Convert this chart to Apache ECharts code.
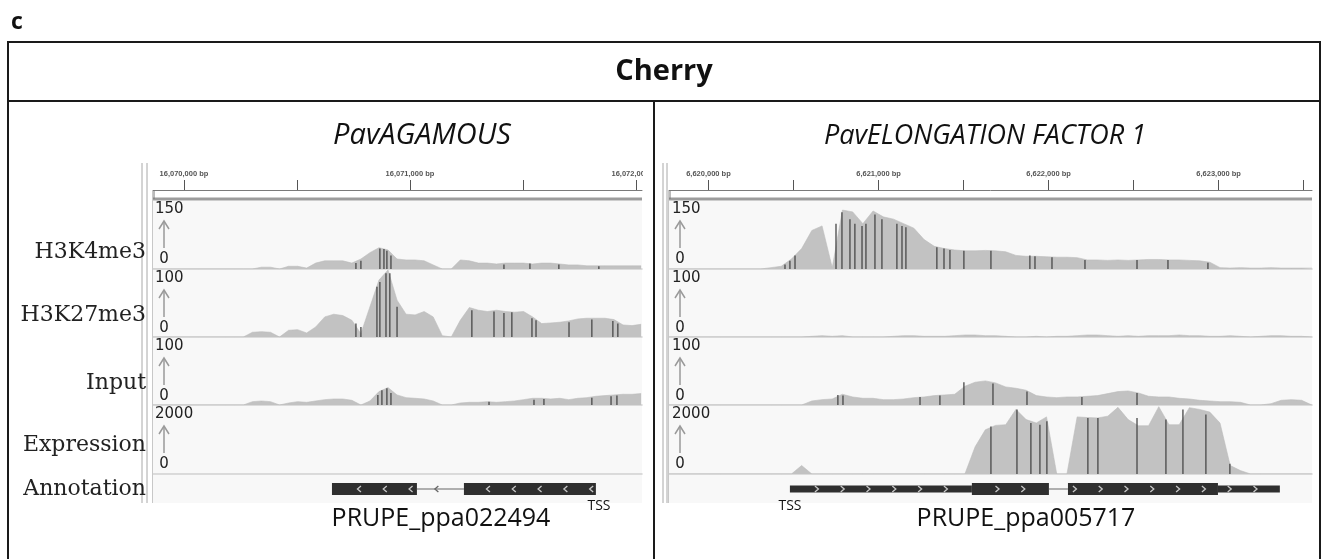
<!DOCTYPE html>
<html>
<head>
<meta charset="utf-8">
<script src="https://cdn.jsdelivr.net/npm/echarts@6/dist/echarts.min.js"></script>
<style>
  html, body { margin: 0; padding: 0; background: #fff; }
  #chart { width: 1322px; height: 559px; }
</style>
</head>
<body>
<div id="chart"></div>
<script>
// track names and scale maxima
var TRACK_NAMES = ['H3K4me3', 'H3K27me3', 'Input', 'Expression'];
var TRACK_MAX = [150, 100, 100, 2000];

// genomic windows (bp)
var L_RANGE = [16069863, 16072027];
var R_RANGE = [6619768, 6623549];
var L_TICKS = [16070000, 16070500, 16071000, 16071500, 16072000];
var L_LABELS = [16070000, 16071000, 16072000];
var R_TICKS = [6620000, 6620500, 6621000, 6621500, 6622000, 6622500, 6623000, 6623500];
var R_LABELS = [6620000, 6621000, 6622000, 6623000];

// coverage sampled every L_STEP / R_STEP bp from the window start
var L_START = 16069863, L_STEP = 40;
var R_START = 6619768, R_STEP = 60;

// PavAGAMOUS
var L_K4 = [0,0,0,0,0,0,0,0,0,0,0,0,4,4,0,6,6,2,13,18,18,18,13,22,36,47,42,22,20,20,18,9,0,0,20,18,13,13,11,13,13,13,11,13,13,11,9,9,7,7,7,7,7,7,7];
var L_K27 = [0,0,0,0,0,0,0,0,0,0,0,7,8,7,0,10,11,6,15,30,34,32,25,5,45,85,100,55,34,33,38,30,2,0,25,44,40,38,40,38,37,38,30,20,21,22,24,27,28,28,28,26,18,17,19];
var L_INPUT = [0,0,0,0,0,0,0,0,0,0,0,5,6,5,0,3,5,4,6,8,9,9,7,0,6,20,26,15,11,10,9,6,0,0,3,4,4,5,4,5,6,8,10,10,9,10,8,10,11,13,14,15,16,16,17];
var L_EXPR = [];

// PavELONGATION FACTOR 1
var R_K4 = [0,0,0,0,0,0,0,0,0,0,3,6,22,45,85,95,3,130,126,100,128,115,110,100,90,65,50,45,42,40,40,41,40,38,30,28,28,27,26,26,25,20,20,19,20,19,20,21,21,20,20,19,18,15,3,2,3,2,2,3,2,2,2,2];
var R_K27 = [0,0,0,0,0,0,0,0,0,0,0,0,0,0,1,2,1,2,0,0,0,0,1,2,2,1,1,1,2,3,3,2,2,1,0,0,1,0,1,1,2,3,3,2,1,2,1,2,2,2,3,2,2,1,1,2,1,0,1,2,2,1,1,0];
var R_INPUT = [0,0,0,0,0,0,0,0,0,0,0,0,0,0,6,8,9,16,12,10,10,8,8,9,11,12,14,15,16,28,34,36,33,27,25,22,14,12,11,12,12,13,14,17,20,21,18,13,12,12,10,9,7,6,5,5,4,0,0,2,7,8,7,0];
var R_EXPR = [0,0,0,0,0,0,0,0,0,0,0,0,0,250,0,0,0,0,0,0,0,0,0,0,0,0,0,0,0,0,800,1300,1430,1450,1900,1600,1500,1680,0,0,1680,1660,1650,1700,1960,1600,1420,1420,1980,1450,1450,1950,1900,1820,1500,250,100,0,0,0,0,0,0,0];

// mismatch streaks [bp, height]
var L_K4_DARK = [[16070761,13],[16070783,18],[16070867,45],[16070885,44],[16070898,40],[16070916,30],[16071416,10],[16071531,12],[16071659,10],[16071836,6]];
var L_K27_DARK = [[16070761,20],[16070783,15],[16070854,75],[16070867,82],[16070894,95],[16070911,95],[16070943,45],[16071274,40],[16071372,38],[16071416,36],[16071451,37],[16071540,28],[16071558,25],[16071704,22],[16071805,26],[16071898,24],[16071920,20]];
var L_INPUT_DARK = [[16070858,15],[16070876,22],[16070898,25],[16070916,18],[16071350,5],[16071549,8],[16071593,9],[16071805,11],[16071890,13],[16071916,14]];
var R_K4_DARK = [[6620450,10],[6620479,18],[6620509,30],[6620750,100],[6620785,125],[6620832,110],[6620861,100],[6620903,95],[6620926,100],[6620979,120],[6621020,110],[6621108,100],[6621138,95],[6621161,92],[6621343,48],[6621385,45],[6621420,42],[6621502,40],[6621661,40],[6621890,30],[6621920,28],[6622020,26],[6622214,20],[6622520,20],[6622702,20],[6622937,14]];
var R_INPUT_DARK = [[6620761,15],[6620791,14],[6621244,12],[6621361,14],[6621502,34],[6621673,32],[6621873,20],[6622196,12],[6622520,18]];
var R_EXPR_DARK = [[6621661,1400],[6621814,1900],[6621896,1500],[6621949,1450],[6621990,1550],[6622231,1650],[6622290,1650],[6622520,1650],[6622690,1600],[6622790,1900],[6622925,1750],[6623066,300]];

// gene models [start, end, kind]  kind: 0 intron, 1 utr, 2 exon
var L_GENE = [[16070655, 16071031, 2], [16071031, 16071239, 0], [16071239, 16071823, 2]];
var R_GENE = [[6620479, 6621549, 1], [6621549, 6622002, 2], [6622002, 6622114, 0], [6622114, 6622996, 2], [6622996, 6623360, 1]];

// layout
var TRACK_TOP = [201, 270, 338, 406];
var TRACK_H = [68, 67, 67, 68];
var LABEL_Y = [252, 315, 383, 445];
var ANNOT_TOP = 475, ANNOT_H = 28;

var PANELS = [
  { left: 153, width: 489, range: L_RANGE, ticks: L_TICKS, labels: L_LABELS, start: L_START, step: L_STEP,
    cov: [L_K4, L_K27, L_INPUT, L_EXPR], dark: [L_K4_DARK, L_K27_DARK, L_INPUT_DARK, []],
    gene: L_GENE, strand: -1, title: 'PavAGAMOUS', titleX: 422, titleFont: 'italic 29px "Open Sans"',
    geneName: 'PRUPE_ppa022494', nameX: 441, tssX: 599, scaleDx: 2, lines: [142, 147] },
  { left: 669, width: 643, range: R_RANGE, ticks: R_TICKS, labels: R_LABELS, start: R_START, step: R_STEP,
    cov: [R_K4, R_K27, R_INPUT, R_EXPR], dark: [R_K4_DARK, [], R_INPUT_DARK, R_EXPR_DARK],
    gene: R_GENE, strand: 1, title: 'PavELONGATION FACTOR 1', titleX: 985, titleFont: 'italic 27px "Open Sans"',
    geneName: 'PRUPE_ppa005717', nameX: 1026, tssX: 790, scaleDx: 3, lines: [663, 667] }
];

function fmtBp(v) {
  return String(Math.round(v)).replace(/\B(?=(\d{3})+(?!\d))/g, ',') + ' bp';
}

function geneRenderer(strand, geneStart) {
  return function (params, api) {
    var s = api.coord([api.value(0), 0.5]);
    var e = api.coord([api.value(1), 0.5]);
    var kind = api.value(2);
    var cy = s[1];
    var g0 = api.coord([geneStart, 0.5])[0];
    var children = [];
    if (kind === 0) {
      children.push({ type: 'line', shape: { x1: s[0], y1: cy, x2: e[0], y2: cy }, style: { stroke: '#666', lineWidth: 1 } });
    } else {
      var h = kind === 2 ? 12 : 7;
      children.push({ type: 'rect', shape: { x: s[0], y: cy - h / 2, width: e[0] - s[0], height: h }, style: { fill: '#2f2f2f' } });
    }
    var chevColor = kind === 0 ? '#666' : '#c8c8c8';
    for (var x = g0 + 27; x < e[0] - 2; x += 25.8) {
      if (x < s[0] + 3) continue;
      var pts = strand < 0
        ? [[x + 2, cy - 3], [x - 1.5, cy], [x + 2, cy + 3]]
        : [[x - 2, cy - 3], [x + 1.5, cy], [x - 2, cy + 3]];
      children.push({ type: 'polyline', shape: { points: pts }, style: { stroke: chevColor, lineWidth: 1.3, fill: null } });
    }
    return { type: 'group', children: children };
  };
}

var grids = [], xAxes = [], yAxes = [], series = [], graphics = [];

PANELS.forEach(function (p) {
  // ruler
  var gi = grids.length;
  grids.push({ left: p.left, top: 163, width: p.width, height: 27, show: false });
  xAxes.push({
    gridIndex: gi, type: 'value', min: p.range[0], max: p.range[1], position: 'bottom',
    axisLine: { show: true, lineStyle: { color: '#7a7a7a', width: 1 } },
    axisTick: { show: true, inside: true, length: 10, customValues: p.ticks, lineStyle: { color: '#555' } },
    axisLabel: { show: true, inside: true, margin: 12, customValues: p.labels, formatter: fmtBp,
      fontSize: 7.5, fontWeight: 'bold', color: '#555', fontFamily: 'Arial, Liberation Sans' },
    splitLine: { show: false }
  });
  yAxes.push({ gridIndex: gi, type: 'value', min: 0, max: 1, show: false });

  // coverage tracks
  TRACK_NAMES.forEach(function (name, t) {
    var g = grids.length;
    grids.push({ left: p.left, top: TRACK_TOP[t], width: p.width, height: TRACK_H[t], show: true,
      backgroundColor: '#f8f8f8', borderWidth: 0 });
    xAxes.push({ gridIndex: g, type: 'value', min: p.range[0], max: p.range[1],
      axisLine: { show: true, lineStyle: { color: '#d0d0d0', width: 1.5 } },
      axisTick: { show: false }, axisLabel: { show: false }, splitLine: { show: false } });
    yAxes.push({ gridIndex: g, type: 'value', min: 0, max: TRACK_MAX[t], show: false });
    series.push({
      type: 'line', xAxisIndex: g, yAxisIndex: g, showSymbol: false, symbol: 'none',
      data: p.cov[t].map(function (v, i) { return [p.start + i * p.step, v]; }),
      lineStyle: { color: '#bcbcbc', width: 0.6 },
      areaStyle: { color: '#c2c2c2', opacity: 1 }, z: 2
    });
    if (p.dark[t].length) {
      series.push({
        type: 'bar', xAxisIndex: g, yAxisIndex: g, barWidth: 1.5, data: p.dark[t],
        itemStyle: { color: '#4d4d4d', opacity: 0.9 }, z: 3
      });
    }
    // scale labels and arrow
    var top = TRACK_TOP[t], ax = p.left + 11;
    graphics.push({ type: 'text', z: 20, style: { text: String(TRACK_MAX[t]), x: p.left + p.scaleDx, y: top + 8,
      font: '15px "DejaVu Sans"', fill: '#222', textAlign: 'left', textVerticalAlign: 'middle' } });
    graphics.push({ type: 'text', z: 20, style: { text: '0', x: ax, y: top + 58,
      font: '15px "DejaVu Sans"', fill: '#222', textAlign: 'center', textVerticalAlign: 'middle' } });
    graphics.push({ type: 'line', z: 20, shape: { x1: ax, y1: top + 20, x2: ax, y2: top + 47 }, style: { stroke: '#9a9a9a', lineWidth: 1.5 } });
    graphics.push({ type: 'polyline', z: 20, shape: { points: [[ax - 5, top + 28], [ax, top + 20], [ax + 5, top + 28]] },
      style: { stroke: '#9a9a9a', lineWidth: 1.5, fill: null } });
  });

  // annotation
  var ga = grids.length;
  grids.push({ left: p.left, top: ANNOT_TOP, width: p.width, height: ANNOT_H, show: true, backgroundColor: '#f8f8f8', borderWidth: 0 });
  xAxes.push({ gridIndex: ga, type: 'value', min: p.range[0], max: p.range[1], show: false });
  yAxes.push({ gridIndex: ga, type: 'value', min: 0, max: 1, show: false });
  series.push({ type: 'custom', xAxisIndex: ga, yAxisIndex: ga, renderItem: geneRenderer(p.strand, p.gene[0][0]),
    data: p.gene, encode: { x: [0, 1] }, z: 3 });

  // ruler decorations and panel lines
  graphics.push({ type: 'line', z: 20, shape: { x1: p.left, y1: 199, x2: p.left + p.width, y2: 199 }, style: { stroke: '#9c9c9c', lineWidth: 3 } });
  graphics.push({ type: 'line', z: 20, shape: { x1: p.left + 1, y1: 190, x2: p.left + 1, y2: 199 }, style: { stroke: '#777', lineWidth: 1 } });
  p.lines.forEach(function (lx) {
    graphics.push({ type: 'line', z: 20, shape: { x1: lx, y1: 163, x2: lx, y2: 503 }, style: { stroke: '#a8a8a8', lineWidth: 1 } });
  });
  graphics.push({ type: 'line', z: 20, shape: { x1: p.left - 0.5, y1: 190, x2: p.left - 0.5, y2: 503 }, style: { stroke: '#c8c8c8', lineWidth: 1 } });

  // texts
  graphics.push({ type: 'text', z: 20, style: { text: p.title, x: p.titleX, y: 136, font: p.titleFont,
    fill: '#111', textAlign: 'center', textVerticalAlign: 'middle' } });
  graphics.push({ type: 'text', z: 20, style: { text: p.geneName, x: p.nameX, y: 519, font: '25px "Open Sans"',
    fill: '#111', textAlign: 'center', textVerticalAlign: 'middle' } });
  graphics.push({ type: 'text', z: 20, style: { text: 'TSS', x: p.tssX, y: 506, font: '14px "Open Sans"',
    fill: '#111', textAlign: 'center', textVerticalAlign: 'middle' } });
});

// row labels
TRACK_NAMES.concat(['Annotation']).forEach(function (name, i) {
  graphics.push({ type: 'text', z: 20, style: { text: name, x: 146, y: i < 4 ? LABEL_Y[i] : 489,
    font: '22px "DejaVu Serif"', fill: '#222', textAlign: 'right', textVerticalAlign: 'middle' } });
});

// mask for clipped ruler label, frame and headings
graphics.push({ type: 'rect', z: 50, shape: { x: 643, y: 163, width: 19, height: 20 }, style: { fill: '#fff' } });
graphics.push({ type: 'rect', z: 60, shape: { x: 8, y: 42, width: 1312, height: 540 }, style: { fill: null, stroke: '#1a1a1a', lineWidth: 2 } });
graphics.push({ type: 'line', z: 60, shape: { x1: 8, y1: 101, x2: 1320, y2: 101 }, style: { stroke: '#1a1a1a', lineWidth: 2 } });
graphics.push({ type: 'line', z: 60, shape: { x1: 654, y1: 101, x2: 654, y2: 580 }, style: { stroke: '#1a1a1a', lineWidth: 2 } });
graphics.push({ type: 'text', z: 60, style: { text: 'c', x: 11, y: 22, font: 'bold 23px "Open Sans"', fill: '#111', textAlign: 'left', textVerticalAlign: 'middle' } });
graphics.push({ type: 'text', z: 60, style: { text: 'Cherry', x: 664, y: 72, font: 'bold 29px "Open Sans"', fill: '#111', textAlign: 'center', textVerticalAlign: 'middle' } });

var chart = echarts.init(document.getElementById('chart'), null, { renderer: 'canvas' });
chart.setOption({
  animation: false,
  backgroundColor: '#fff',
  grid: grids,
  xAxis: xAxes,
  yAxis: yAxes,
  series: series,
  graphic: graphics
});
</script>
</body>
</html>
